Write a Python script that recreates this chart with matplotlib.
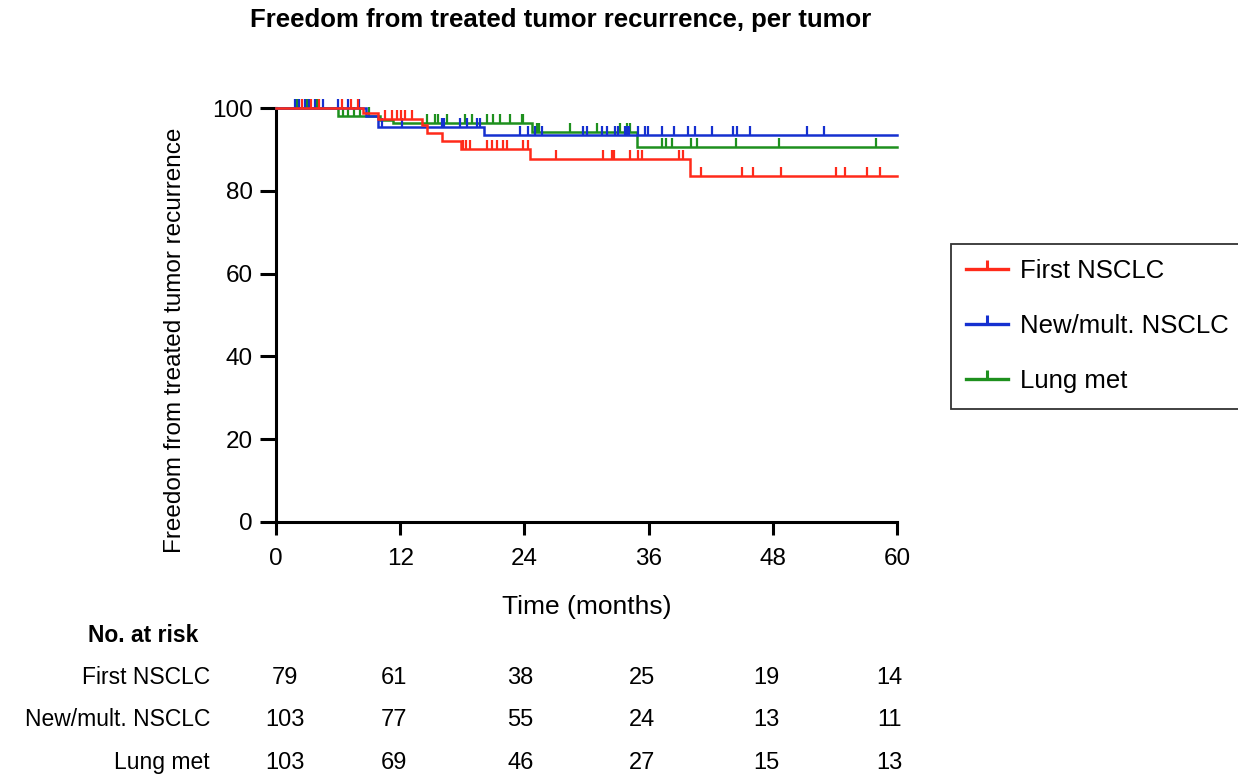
import numpy as np
import matplotlib
matplotlib.use("Agg")
import matplotlib.pyplot as plt
import matplotlib.transforms as mtransforms

plt.rcParams['font.family'] = ['Liberation Sans', 'DejaVu Sans']

# ---------------- data ----------------
groups = ["First NSCLC", "New/mult. NSCLC", "Lung met"]
colors = ["#FF2A1A", "#1530D0", "#1E901E"]

# event times (months) and survival (%) after each event
first_event_t = [8.4, 9.9, 14.1, 14.6, 16.0, 17.9, 24.5, 40.0]
first_event_s = [98.7, 97.4, 95.8, 94.0, 92.0, 90.0, 87.6, 83.5]
first_cens = [2.5, 3.4, 4.2, 6.4, 7.2, 7.9, 10.5, 11.2, 11.7, 12.1, 12.5, 13.1,
              18.1, 18.4, 18.7, 20.4, 20.9, 21.4, 21.9, 22.3, 23.9, 24.3,
              27.1, 31.6, 32.5, 32.7, 34.2, 35.0, 35.4, 38.9, 39.3,
              41.1, 45.0, 46.1, 48.8, 54.1, 55.0, 57.1, 58.4]

new_event_t = [8.7, 9.9, 20.1]
new_event_s = [98.0, 95.4, 93.4]
new_cens = [1.8, 2.2, 2.8, 3.2, 3.8, 4.5, 6.0, 7.0, 8.0, 10.2, 12.2, 16.0, 16.2,
            17.8, 18.5, 19.4, 19.7, 23.6, 24.3, 25.0, 25.7, 29.7, 30.0, 31.5,
            32.0, 32.8, 33.0, 33.7, 33.9, 34.1, 35.0, 35.7, 35.9, 37.3, 38.5,
            39.8, 40.5, 42.1, 44.2, 44.5, 45.8, 51.3, 52.9]

met_event_t = [6.0, 10.0, 11.3, 24.7, 34.9]
met_event_s = [98.0, 97.2, 96.4, 94.3, 90.6]
met_cens = [2.0, 3.0, 4.0, 6.5, 7.0, 7.5, 8.1, 9.0, 14.6, 15.4, 15.7, 16.5,
            18.3, 18.9, 20.4, 21.0, 21.6, 22.6, 23.8, 23.9, 25.2, 25.4, 28.4,
            31.0, 33.2, 33.9, 34.2, 37.3, 37.7, 38.3, 40.1, 40.7, 44.4, 48.6, 58.0]

x_max = 60
x_ticks = [0, 12, 24, 36, 48, 60]
y_ticks = [0, 20, 40, 60, 80, 100]

risk_first = [79, 61, 38, 25, 19, 14]
risk_new = [103, 77, 55, 24, 13, 11]
risk_met = [103, 69, 46, 27, 15, 13]

event_t = [first_event_t, new_event_t, met_event_t]
event_s = [first_event_s, new_event_s, met_event_s]
cens_t = [first_cens, new_cens, met_cens]
risks = [risk_first, risk_new, risk_met]

# ---------------- figure ----------------
W, H = 1238, 776
fig = plt.figure(figsize=(W / 100, H / 100), dpi=100)
ax = fig.add_axes([276 / W, 1 - 522 / H, (897 - 276) / W, (522 - 108) / H])

tick_marker = [(0, 0), (0, 1)]
handles = []
zorders = [5, 4, 3]
for i in range(3):
    t = np.array([0] + event_t[i] + [x_max])
    s = np.array([100] + event_s[i] + [event_s[i][-1]])
    ax.step(t, s, where="post", color=colors[i], lw=1.8, zorder=zorders[i],
            clip_on=False, solid_joinstyle="miter")
    ct = np.array(cens_t[i])
    idx = np.searchsorted(t, ct, side="right") - 1
    cs = s[idx]
    ax.plot(ct, cs, linestyle="none", marker=tick_marker, markersize=13,
            markeredgewidth=1.6, color=colors[i], zorder=zorders[i], clip_on=False)
    h, = ax.plot([], [], color=colors[i], lw=2.4, marker=tick_marker,
                 markersize=13, markeredgewidth=2.2)
    handles.append(h)

ax.set_xlim(0, x_max)
ax.set_ylim(0, 100)
ax.set_xticks(x_ticks)
ax.set_yticks(y_ticks)
for sp in ["top", "right"]:
    ax.spines[sp].set_visible(False)
for sp in ["left", "bottom"]:
    ax.spines[sp].set_linewidth(2.2)
ax.tick_params(axis="both", direction="out", width=2.2, labelsize=17.5, colors="black")
ax.tick_params(axis="y", length=11.5, pad=5)
ax.tick_params(axis="x", length=9, pad=10)

ax.set_xlabel("Time (months)", fontsize=19, labelpad=18)
fig.text(175 / W, 1 - 340 / H, "Freedom from treated tumor recurrence",
         rotation=90, ha="center", va="center", fontsize=17.5)

fig.text(561 / W, 1 - 20 / H, "Freedom from treated tumor recurrence, per tumor",
         ha="center", va="center", fontsize=18.5, fontweight="bold")

leg = fig.legend(handles, groups, loc="upper left",
                 bbox_to_anchor=(951 / W, 1 - 244 / H), fontsize=18.5,
                 frameon=True, fancybox=False, edgecolor="black",
                 handlelength=1.6, handletextpad=0.47, labelspacing=1.2,
                 borderpad=0.6, borderaxespad=0, numpoints=1)
leg.get_frame().set_linewidth(1.3)

# ---------------- number at risk table ----------------
trans = mtransforms.blended_transform_factory(ax.transData, fig.transFigure)
fig.text(88 / W, 1 - 635 / H, "No. at risk", ha="left", va="center",
         fontsize=16.5, fontweight="bold")
row_y = [678, 720, 763]
offsets = [0.9, -0.6, -0.4, -0.6, -0.6, -0.7]
for i in range(3):
    fig.text(210 / W, 1 - row_y[i] / H, groups[i], ha="right", va="center",
             fontsize=16.5)
    for j, xt in enumerate(x_ticks):
        ax.text(xt + offsets[j], 1 - row_y[i] / H, str(risks[i][j]), transform=trans,
                ha="center", va="center", fontsize=17, clip_on=False)

fig.savefig("out.png", dpi=100)
